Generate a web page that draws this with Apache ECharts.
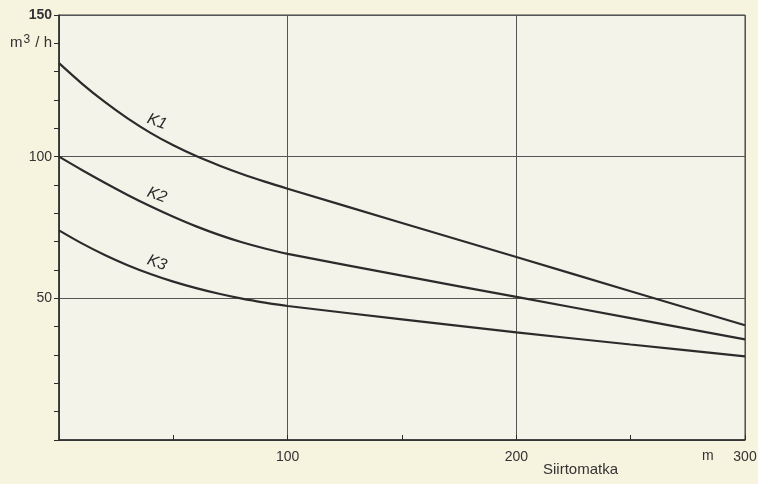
<!DOCTYPE html>
<html><head><meta charset="utf-8">
<script src="https://cdn.jsdelivr.net/npm/echarts@6/dist/echarts.min.js"></script>
<style>html,body{margin:0;padding:0;background:#f6f3df}#c{width:758px;height:484px}</style>
</head><body><div id="c"></div>
<script>
// Siirtomatka (m) vs. Teho (m³/h) for three machine classes
const distance = [0, 10, 20, 30, 40, 50, 60, 70, 80, 90, 100, 150, 200, 250, 300];
const k1 = [133, 125.8, 119.3, 113.5, 108.4, 104.0, 100.2, 96.9, 93.9, 91.2, 88.7, 76.6, 64.6, 52.5, 40.5];
const k2 = [100, 95.3, 90.8, 86.5, 82.5, 78.8, 75.4, 72.4, 69.8, 67.6, 65.7, 58, 50.5, 43, 35.5];
const k3 = [74, 69.4, 65.3, 61.7, 58.6, 55.9, 53.6, 51.6, 49.9, 48.5, 47.3, 42.6, 38, 33.7, 29.5];
const curveNames = ['K1', 'K2', 'K3'];
const yTickLabels = { 50: '50', 100: '100', 140: '{u|m}{sup|3}{u| / h}', 150: '{b|150}' };
const xTickLabels = { 100: '100', 200: '200', 300: '300' };

const FONT = 'Liberation Sans';
const INK = '#2b2b2b';
const labelAt = 4; // data index where the curve name sits

function makeSeries(name, values) {
  return {
    type: 'line', name, smooth: 0.3, symbol: 'none',
    xAxisIndex: 0, yAxisIndex: 0,
    lineStyle: { color: INK, width: 2.2 },
    data: distance.map((d, i) => [d, values[i]]),
    markPoint: {
      symbol: 'circle', symbolSize: 0, itemStyle: { color: 'rgba(0,0,0,0)' }, silent: true,
      label: {
        show: true, formatter: name, position: 'top', distance: 5, offset: [4, 0],
        rotate: -20, fontFamily: FONT, fontStyle: 'italic', fontSize: 16, color: INK
      },
      data: [{ coord: [distance[labelAt], values[labelAt]] }]
    }
  };
}

const chart = echarts.init(document.getElementById('c'));
chart.setOption({
  backgroundColor: '#f6f3df',
  animation: false,
  grid: {
    left: 59, right: 13, top: 15, bottom: 44, outerBoundsMode: 'none', containLabel: false,
    show: true, borderColor: '#3a3a3a', borderWidth: 1, backgroundColor: '#f4f3e9'
  },
  xAxis: [
    {
      type: 'value', min: 0, max: 300, interval: 50,
      axisLine: { show: true, lineStyle: { color: INK, width: 1.5 } },
      axisTick: { show: true, inside: true, length: 5, lineStyle: { color: INK } },
      axisLabel: { formatter: v => xTickLabels[v] || '', fontFamily: FONT, fontSize: 14, color: '#333', margin: 10, showMinLabel: true, showMaxLabel: true },
      splitLine: { show: false }
    },
    {
      type: 'value', min: 0, max: 300, interval: 100, position: 'bottom',
      axisLine: { show: false }, axisTick: { show: false }, axisLabel: { show: false },
      splitLine: { show: true, lineStyle: { color: '#555', width: 1 } }
    }
  ],
  yAxis: [
    {
      type: 'value', min: 0, max: 150, interval: 10,
      name: 'Teho', nameLocation: 'middle', nameGap: 40,
      nameTextStyle: { fontFamily: FONT, fontSize: 13, fontWeight: 'bold', color: '#333' },
      axisLine: { show: true, lineStyle: { color: INK, width: 1.5 } },
      axisTick: { show: true, inside: false, length: 5, lineStyle: { color: INK } },
      axisLabel: {
        formatter: v => yTickLabels[v] || '', fontFamily: FONT, fontSize: 14, color: '#333', margin: 7,
        rich: {
          u: { fontFamily: FONT, fontSize: 15, color: '#333' },
          sup: { fontFamily: FONT, fontSize: 12, color: '#333', verticalAlign: 'bottom', padding: [0, 1, 8, 1] },
          b: { fontFamily: FONT, fontSize: 14, fontWeight: 'bold', color: '#333' }
        }
      },
      splitLine: { show: false }
    },
    {
      type: 'value', min: 0, max: 150, interval: 50, position: 'left',
      axisLine: { show: false }, axisTick: { show: false }, axisLabel: { show: false },
      splitLine: { show: true, lineStyle: { color: '#555', width: 1 } }
    }
  ],
  graphic: [
    { type: 'text', left: 702, top: 449, style: { text: 'm', font: '14px "Liberation Sans"', fill: '#333' } },
    { type: 'text', left: 543, top: 462, style: { text: 'Siirtomatka', font: '15px "Liberation Sans"', fill: '#333' } }
  ],
  series: [makeSeries(curveNames[0], k1), makeSeries(curveNames[1], k2), makeSeries(curveNames[2], k3)]
});
</script>
</body></html>
